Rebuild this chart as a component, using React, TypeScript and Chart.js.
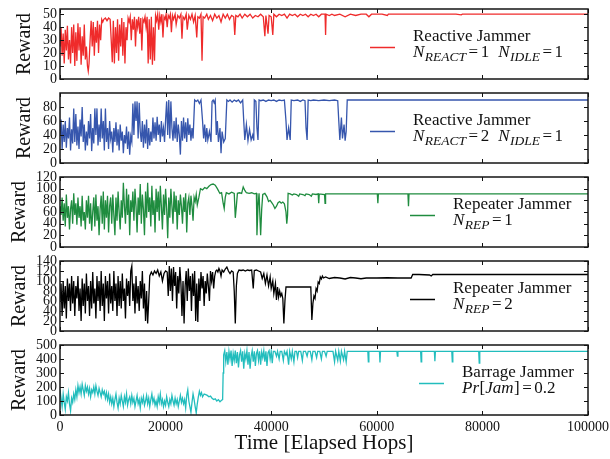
import { useEffect, useRef } from 'react';
import { Chart, registerables } from 'chart.js';

Chart.register(...registerables);

const FF = "'Liberation Serif', 'Times New Roman', Times, serif";

// x values are in thousands of elapsed hops
const xTicks = [0, 20000, 40000, 60000, 80000, 100000];
const yMax = [54, 100, 120, 140, 500];
const yStep = [10, 20, 20, 20, 100];
const yLabelMax = [50, 80, 120, 140, 500];

const seriesNames = ['Reactive Jammer', 'Reactive Jammer', 'Repeater Jammer', 'Repeater Jammer', 'Barrage Jammer'];
type Seg = [string, string];
const seriesParams: Seg[][] = [
  [['N', 'i'], ['REACT', 's'], ['=', 'rel'], ['1', 'r'], [' ', 'sp'], ['N', 'i'], ['IDLE', 's'], ['=', 'rel'], ['1', 'r']],
  [['N', 'i'], ['REACT', 's'], ['=', 'rel'], ['2', 'r'], [' ', 'sp'], ['N', 'i'], ['IDLE', 's'], ['=', 'rel'], ['1', 'r']],
  [['N', 'i'], ['REP', 's'], ['=', 'rel'], ['1', 'r']],
  [['N', 'i'], ['REP', 's'], ['=', 'rel'], ['2', 'r']],
  [['Pr', 'i'], ['[', 'r'], ['Jam', 'i'], [']', 'r'], ['=', 'rel'], ['0.2', 'r']],
];
const colors = ['#ef2b2b', '#3656ad', '#1f8c3f', '#000000', '#22bdbd'];

const reactive1: number[][] = [
  [0, 25], [0.2, 40], [0.4, 18], [0.6, 35], [0.8, 12], [1.0, 38], [1.2, 22], [1.4, 41], [1.6, 15], [1.8, 30], [2.0, 12], [2.2, 40], [2.4, 20], [2.6, 42], [2.8, 10], [3.0, 36], [3.2, 14], [3.4, 43], [3.6, 22], [3.8, 40], [4.0, 11], [4.2, 33], [4.4, 18], [4.6, 42], [4.8, 15], [5.0, 25], [5.2, 10], [5.35, 6], [5.5, 12],
  [5.7, 30], [5.9, 45], [6.1, 25], [6.3, 44], [6.5, 18], [6.7, 40], [6.9, 28], [7.1, 45], [7.3, 20], [7.5, 42], [7.7, 30], [7.9, 46],
  [8.1, 44], [8.3, 46], [8.6, 47], [8.9, 45], [9.2, 47], [9.5, 46], [9.7, 30], [9.9, 13], [10.1, 45], [10.3, 12], [10.5, 40], [10.7, 20], [10.9, 46], [11.1, 14], [11.3, 42], [11.5, 25], [11.7, 47], [11.9, 18], [12.1, 44], [12.3, 12], [12.5, 40], [12.7, 30], [12.9, 47],
  [13.1, 44], [13.3, 48], [13.5, 30], [13.7, 46], [13.9, 38], [14.1, 48], [14.3, 25], [14.5, 46], [14.7, 40], [14.9, 48], [15.1, 35], [15.3, 47], [15.5, 22], [15.7, 46], [15.9, 44], [16.1, 48], [16.3, 40],
  [16.5, 48], [16.7, 12], [16.9, 46], [17.1, 15], [17.3, 48], [17.5, 11], [17.7, 40], [17.9, 14], [18.1, 49],
  [18.3, 45], [18.5, 50], [18.7, 38], [18.9, 49], [19.1, 44], [19.3, 50], [19.5, 32], [19.7, 48], [19.9, 46], [20.1, 50], [20.3, 40], [20.5, 49], [20.7, 47], [20.9, 50], [21.1, 36], [21.3, 49], [21.5, 46], [21.8, 50], [22.0, 42], [22.3, 49], [22.6, 47], [22.9, 50], [23.1, 31], [23.3, 48], [23.6, 46], [23.9, 50], [24.1, 38], [24.4, 49], [24.7, 46], [25.0, 50], [25.3, 44], [25.6, 49], [25.9, 32], [26.1, 48], [26.4, 47], [26.7, 50], [26.9, 14], [27.1, 48],
  [27.4, 47], [27.8, 50], [28.1, 46], [28.5, 49], [28.9, 45], [29.3, 50], [29.7, 47], [30.1, 49], [30.5, 44], [30.9, 50], [31.3, 47], [31.7, 50], [32.1, 46], [32.5, 49], [32.9, 48], [33.1, 34], [33.3, 49], [33.7, 48], [34.1, 50], [34.5, 47], [35, 50], [35.5, 48], [36, 50], [36.5, 47], [37, 49], [37.5, 48], [38, 50], [38.5, 48], [38.8, 33], [39.0, 49], [39.4, 35], [39.6, 49], [40.0, 48], [40.3, 34], [40.5, 50],
  [41, 48], [41.5, 50], [42, 49], [42.5, 50], [43, 47], [43.5, 50], [44, 49], [44.5, 50], [45, 48], [45.5, 50], [46, 49], [46.5, 50], [47, 48], [47.5, 50], [48, 49], [48.5, 50], [49, 48], [49.5, 50], [50.2, 50], [50.3, 34], [50.4, 50], [51, 49], [51.5, 50], [52, 49], [53, 50], [54, 48], [55, 50], [56, 49], [57, 50], [58, 50], [58.5, 48], [59, 50], [61, 50], [62, 49], [62.2, 50], [65, 50], [75, 50], [76, 49.5], [76.2, 50], [100, 50],
];

const reactive2: number[][] = [
  [0, 40], [0.2, 62], [0.4, 20], [0.6, 55], [0.8, 30], [1.0, 60], [1.2, 22], [1.4, 50], [1.6, 35], [1.8, 65], [2.0, 18], [2.2, 48], [2.4, 28], [2.6, 78], [2.8, 30], [3.0, 70], [3.2, 25], [3.4, 52], [3.6, 20], [3.8, 62], [4.0, 38], [4.2, 80], [4.4, 30], [4.6, 55], [4.8, 18], [5.0, 45], [5.2, 25], [5.4, 60], [5.6, 35], [5.8, 70], [6.0, 17], [6.2, 50], [6.4, 28], [6.6, 78], [6.8, 40], [7.0, 78], [7.2, 25], [7.4, 55], [7.6, 30], [7.8, 78], [8.0, 35], [8.2, 60], [8.4, 18], [8.6, 78], [8.8, 30], [9.0, 50], [9.2, 20], [9.4, 60], [9.6, 35], [9.8, 45], [10.0, 15], [10.2, 50], [10.4, 30], [10.6, 58], [10.8, 25], [11.0, 48], [11.2, 18], [11.4, 55], [11.6, 32], [11.8, 45], [12.0, 14], [12.2, 40], [12.4, 28], [12.6, 52], [12.8, 20], [13.0, 45], [13.2, 12], [13.4, 38], [13.6, 30],
  [13.8, 85], [14.0, 40], [14.2, 88], [14.4, 60], [14.6, 88], [14.8, 35], [15.0, 86], [15.2, 45], [15.4, 30], [15.6, 60], [15.8, 22], [16.0, 55], [16.2, 28], [16.4, 62], [16.6, 20], [16.8, 50], [17.0, 25], [17.2, 45], [17.4, 30],
  [17.6, 65], [17.8, 35], [18.0, 58], [18.2, 32], [18.4, 66], [18.6, 40], [18.8, 55], [19.0, 30], [19.2, 60], [19.4, 38], [19.6, 50], [19.8, 30], [20.0, 62], [20.2, 88], [20.4, 40], [20.6, 90], [20.8, 35], [21.0, 88], [21.2, 50], [21.4, 32], [21.6, 60], [21.8, 35], [22.0, 65], [22.2, 30], [22.4, 55], [22.6, 40], [22.8, 12], [23.0, 60], [23.2, 32], [23.4, 65], [23.6, 35], [23.8, 58], [24.0, 30], [24.2, 64], [24.4, 40], [24.6, 55], [24.8, 32], [25.0, 50], [25.2, 35],
  [25.5, 90], [25.8, 88], [26.1, 90], [26.4, 85], [26.7, 90], [27.0, 60], [27.2, 35], [27.4, 55], [27.6, 30], [27.8, 50], [28.0, 33], [28.3, 45], [28.6, 30], [28.8, 88], [29.0, 90], [29.2, 86], [29.4, 90], [29.6, 40], [29.8, 60], [30.0, 30], [30.3, 50], [30.5, 14], [30.7, 45], [31.0, 30], [31.3, 35],
  [31.6, 90], [31.9, 88], [32.2, 90], [32.6, 87], [33.0, 90], [33.4, 88], [33.8, 90], [34.2, 86], [34.6, 90], [34.8, 60], [35.0, 33], [35.3, 55], [35.6, 32], [35.9, 48], [36.2, 33], [36.5, 40], [36.7, 32], [36.8, 90], [37.1, 88], [37.3, 50], [37.5, 33], [37.7, 90], [38.0, 89], [38.5, 90], [39.0, 88], [39.5, 90], [40, 89], [40.5, 90], [41, 88], [41.5, 90], [42, 89], [42.5, 90], [42.8, 60], [43.0, 33], [43.3, 50], [43.6, 33], [43.8, 90], [44.3, 89], [45, 90], [45.5, 88], [46, 90], [46.4, 89], [46.6, 50], [46.8, 33], [47.0, 90], [47.5, 89], [48, 90], [49, 89], [50, 90], [51, 89], [52, 90], [52.6, 89], [52.8, 60], [53.0, 33], [53.3, 65], [53.5, 35], [53.8, 55], [54.0, 32], [54.2, 45], [54.4, 90], [56, 90], [60, 90], [70, 90], [80, 90], [100, 90],
];

const repeater1: number[][] = [
  [0, 70], [0.2, 55], [0.4, 85], [0.6, 45], [0.8, 75], [1.0, 35], [1.2, 90], [1.4, 50], [1.6, 70], [1.8, 30], [2.0, 65], [2.2, 80], [2.4, 40], [2.6, 92], [2.8, 55], [3.0, 75], [3.2, 38], [3.4, 85], [3.6, 50], [3.8, 70], [4.0, 35], [4.2, 88], [4.4, 45], [4.6, 60], [4.8, 30], [5.0, 80], [5.2, 50], [5.4, 88], [5.6, 40], [5.8, 75], [6.0, 28], [6.2, 60], [6.4, 85], [6.6, 35], [6.8, 90], [7.0, 45], [7.2, 70], [7.4, 20], [7.6, 65], [7.8, 88], [8.0, 40], [8.2, 95], [8.4, 30], [8.6, 80], [8.8, 50], [9.0, 88], [9.2, 25], [9.4, 70], [9.6, 85], [9.8, 40], [10.0, 90], [10.2, 55], [10.4, 20], [10.6, 85], [10.8, 45], [11.0, 95], [11.2, 60], [11.4, 30], [11.6, 80], [11.8, 50], [12.0, 110], [12.2, 70], [12.4, 40], [12.6, 100], [12.8, 55], [13.0, 90], [13.2, 20], [13.4, 80], [13.6, 60], [13.8, 95], [14.0, 45], [14.2, 100], [14.4, 70], [14.6, 25], [14.8, 85], [15.0, 55], [15.2, 108], [15.4, 40], [15.6, 90], [15.8, 65], [16.0, 20], [16.2, 95], [16.4, 50], [16.6, 110], [16.8, 60], [17.0, 85], [17.2, 35], [17.4, 105], [17.6, 55], [17.8, 80], [18.0, 25], [18.2, 100], [18.4, 60], [18.6, 95], [18.8, 45], [19.0, 105], [19.2, 70], [19.4, 30], [19.6, 90], [19.8, 55], [20.0, 100], [20.2, 65], [20.4, 15], [20.6, 85], [20.8, 50], [21.0, 100], [21.2, 70], [21.4, 40], [21.6, 95], [21.8, 60], [22.0, 88], [22.2, 30], [22.4, 80], [22.6, 55], [22.8, 90], [23.0, 70], [23.2, 40], [23.4, 85], [23.6, 60], [23.8, 92], [24.0, 25], [24.2, 75], [24.4, 85], [24.6, 55], [24.8, 88], [25.0, 70], [25.2, 45], [25.4, 85], [25.6, 78], [25.8, 90], [26.0, 72], [26.3, 85],
  [26.6, 100], [27.0, 98], [27.4, 102], [27.8, 100], [28.2, 104], [28.6, 107], [29.0, 108], [29.4, 106], [29.8, 100], [30.1, 95], [30.3, 92], [30.6, 93], [30.9, 75], [31.1, 66], [31.3, 85], [31.5, 93], [32.0, 91], [32.5, 94], [33.0, 92], [33.2, 50], [33.4, 70], [33.6, 92], [34.0, 93], [34.4, 92], [34.7, 103], [35.0, 97], [35.3, 93], [35.8, 92], [36.3, 93], [36.8, 91], [37.2, 92], [37.3, 20], [37.5, 70], [37.7, 92], [38.0, 20], [38.2, 65], [38.4, 90], [38.8, 92],
  [39.2, 86], [39.5, 78], [39.8, 80], [40.1, 76], [40.4, 72], [40.7, 66], [41.0, 70], [41.3, 76], [41.6, 78], [41.9, 75], [42.2, 77], [42.5, 74], [42.8, 60], [42.95, 40], [43.1, 55], [43.2, 92], [43.6, 91], [44.0, 89], [44.3, 91], [44.8, 90], [45.2, 87], [45.4, 91], [46.0, 90], [46.4, 88], [46.6, 91], [47.2, 90], [47.6, 87], [47.8, 91], [48.5, 90], [48.9, 91], [49.0, 75], [49.1, 91], [50.1, 90], [50.2, 75], [50.3, 91], [52, 91], [60.1, 91], [60.2, 75], [60.3, 91], [65.9, 91], [66.0, 70], [66.1, 91], [100, 91],
];

const repeater2: number[][] = [
  [0, 60], [0.2, 95], [0.4, 30], [0.6, 100], [0.8, 45], [1.0, 90], [1.2, 25], [1.4, 105], [1.6, 60], [1.8, 95], [2.0, 40], [2.2, 110], [2.4, 55], [2.6, 100], [2.8, 30], [3.0, 90], [3.2, 65], [3.4, 110], [3.6, 40], [3.8, 85], [4.0, 20], [4.2, 105], [4.4, 50], [4.6, 95], [4.8, 35], [5.0, 115], [5.2, 60], [5.4, 90], [5.6, 30], [5.8, 100], [6.0, 45], [6.2, 118], [6.4, 55], [6.6, 85], [6.8, 25], [7.0, 110], [7.2, 60], [7.4, 100], [7.6, 40], [7.8, 120], [8.0, 50], [8.2, 95], [8.4, 20], [8.6, 110], [8.8, 65], [9.0, 100], [9.2, 35], [9.4, 115], [9.6, 55], [9.8, 90], [10.0, 40], [10.2, 120], [10.4, 60], [10.6, 95], [10.8, 30], [11.0, 110], [11.2, 50], [11.4, 100], [11.6, 45], [11.8, 115], [12.0, 60], [12.2, 85], [12.4, 25], [12.6, 105], [12.8, 70], [13.0, 100], [13.2, 50], [13.4, 120], [13.6, 130], [13.8, 60], [14.0, 95], [14.2, 35], [14.4, 110], [14.6, 55], [14.8, 90], [15.0, 40], [15.2, 100], [15.4, 65], [15.6, 120], [15.8, 45], [16.0, 95], [16.2, 20], [16.4, 80], [16.6, 15], [16.8, 60],
  [17.0, 110], [17.3, 118], [17.6, 112], [17.9, 120], [18.2, 115], [18.5, 122], [18.8, 110], [19.1, 118], [19.4, 100], [19.7, 115], [20.0, 120], [20.3, 118],
  [20.5, 70], [20.7, 130], [20.9, 80], [21.1, 125], [21.3, 60], [21.5, 128], [21.7, 90], [21.9, 118], [22.1, 45], [22.3, 110], [22.5, 75], [22.7, 128], [22.9, 95], [23.1, 30], [23.3, 100], [23.5, 15], [23.7, 90], [23.9, 120], [24.1, 60], [24.3, 125], [24.5, 80], [24.7, 110], [24.9, 40], [25.1, 115], [25.3, 70], [25.5, 120], [25.7, 20], [25.9, 95], [26.1, 18], [26.3, 105], [26.5, 60], [26.7, 118], [26.9, 85], [27.1, 110], [27.3, 50], [27.5, 100], [27.7, 75], [27.9, 115], [28.1, 90], [28.3, 60], [28.5, 120], [28.7, 100], [28.9, 118], [29.1, 85], [29.3, 110], [29.5, 120], [29.7, 122], [29.9, 118], [30.1, 125], [30.3, 120], [30.5, 110], [30.7, 122], [31.0, 118], [31.3, 124], [31.6, 128], [31.9, 120], [32.2, 115], [32.5, 120], [32.8, 118], [33.0, 80], [33.2, 15], [33.4, 90], [33.6, 115],
  [33.9, 122], [34.3, 121], [34.7, 122], [35.1, 120], [35.5, 122], [35.9, 121], [36.3, 122], [36.6, 85], [36.8, 121], [37.2, 122], [37.6, 120], [38.0, 118],
  [38.3, 105], [38.6, 115], [38.9, 95], [39.2, 112], [39.5, 90], [39.8, 108], [40.0, 85], [40.3, 100], [40.5, 75], [40.8, 95], [41.0, 62], [41.2, 88], [41.4, 68], [41.6, 80], [41.8, 70], [42.0, 75], [42.2, 65], [42.4, 15], [42.6, 60], [42.8, 88],
  [43.2, 88], [44, 88], [45, 88], [46, 88], [47, 88], [47.5, 88], [47.7, 22], [47.9, 55], [48.1, 70], [48.3, 65], [48.5, 85], [48.7, 80], [48.9, 98], [49.1, 95], [49.3, 108], [49.5, 104], [49.7, 110], [49.9, 106], [50.3, 108], [51, 105], [52, 107], [53, 106], [54, 104], [55, 107], [56, 106], [57, 104.5], [58, 106], [60, 106], [62, 106.5], [64, 106], [66.5, 106], [66.8, 113], [68, 113], [70, 112], [70.3, 110], [70.6, 113], [75, 113], [100, 113],
];

const barrage: number[][] = [
  [0, 180], [0.2, 120], [0.4, 60], [0.6, 150], [0.8, 90], [1.0, 40], [1.2, 130], [1.4, 100], [1.6, 160], [1.8, 80], [2.0, 30], [2.2, 120], [2.4, 90], [2.6, 150], [2.8, 110], [3.0, 180], [3.2, 130], [3.4, 210], [3.6, 160], [3.8, 200], [4.0, 150], [4.2, 220], [4.4, 180], [4.6, 140], [4.8, 210], [5.0, 170], [5.2, 200], [5.4, 150], [5.6, 190], [5.8, 130], [6.0, 180], [6.2, 160], [6.4, 200], [6.6, 150], [6.8, 210], [7.0, 170], [7.2, 140], [7.4, 190], [7.6, 160], [7.8, 130], [8.0, 180], [8.2, 150], [8.4, 170], [8.6, 120], [8.8, 160], [9.0, 110], [9.2, 150], [9.4, 90], [9.6, 130], [9.8, 80], [10.0, 120], [10.2, 60], [10.4, 110], [10.6, 150], [10.8, 90], [11.0, 50], [11.2, 120], [11.4, 80], [11.6, 140], [11.8, 100], [12.0, 60], [12.2, 130], [12.4, 90], [12.6, 150], [12.8, 70], [13.0, 110], [13.2, 130], [13.4, 80], [13.6, 140], [13.8, 90], [14.0, 120], [14.2, 60], [14.4, 100], [14.6, 140], [14.8, 80], [15.0, 110], [15.2, 50], [15.4, 120], [15.6, 90], [15.8, 130], [16.0, 70], [16.2, 100], [16.4, 140], [16.6, 80], [16.8, 120], [17.0, 60], [17.2, 110], [17.4, 150], [17.6, 90], [17.8, 120], [18.0, 70], [18.2, 100], [18.4, 60], [18.6, 130], [18.8, 90], [19.0, 150], [19.2, 80], [19.4, 110], [19.6, 60], [19.8, 100], [20.0, 70], [20.2, 130], [20.4, 90], [20.6, 60], [20.8, 110], [21.0, 80], [21.2, 140], [21.4, 100], [21.6, 70], [21.8, 120], [22.0, 80], [22.2, 110], [22.4, 60], [22.6, 100], [22.8, 140], [23.0, 90], [23.2, 120], [23.4, 80], [23.6, 110], [23.8, 50], [24.0, 140], [24.2, 180], [24.4, 100], [24.6, 60], [24.8, 20], [25.0, 90], [25.2, 150], [25.4, 110], [25.6, 60], [25.8, 15], [26.0, 80], [26.2, 130], [26.4, 170], [26.6, 140], [26.8, 160], [27.0, 130], [27.3, 150], [27.6, 145], [27.9, 140], [28.2, 130], [28.5, 135], [28.8, 120], [29.1, 110], [29.4, 115], [29.7, 100], [30.0, 110], [30.3, 95], [30.6, 105], [30.8, 110], [30.9, 300], [31.0, 430], [31.2, 460], [31.4, 380],
  [31.6, 450], [31.8, 360], [32.0, 455], [32.2, 400], [32.4, 460], [32.6, 350], [32.8, 440], [33.0, 390], [33.2, 460], [33.4, 370], [33.6, 450], [33.8, 340], [34.0, 430], [34.2, 460], [34.4, 380], [34.6, 455], [34.8, 330], [35.0, 440], [35.2, 400], [35.4, 460], [35.6, 360], [35.8, 450], [36.0, 330], [36.2, 420], [36.4, 460], [36.6, 380], [36.8, 455], [37.0, 350], [37.2, 440], [37.4, 460], [37.6, 390], [37.8, 455], [38.0, 360], [38.2, 450], [38.4, 410], [38.6, 460], [38.8, 380], [39.0, 455], [39.2, 350], [39.4, 445], [39.6, 460], [39.8, 400], [40.0, 455], [40.2, 370], [40.4, 455],
  [40.7, 455], [41.0, 420], [41.2, 455], [41.5, 400], [41.7, 455], [42.0, 455], [42.3, 390], [42.5, 455], [42.8, 430], [43.0, 455], [43.3, 360], [43.5, 455], [43.8, 400], [44.0, 455], [44.3, 380], [44.5, 455], [44.8, 455], [45.0, 410], [45.2, 455], [45.6, 455], [45.9, 390], [46.1, 455], [46.5, 455], [46.8, 420], [47.0, 455], [47.4, 455], [47.7, 395], [47.9, 455], [48.3, 455], [48.6, 410], [48.8, 455], [49.2, 455], [49.5, 400], [49.7, 455], [50.1, 455], [50.4, 420], [50.6, 455], [51, 455], [51.7, 455], [52.0, 380], [52.2, 455], [52.6, 390], [52.8, 455], [53.1, 385], [53.3, 455], [53.7, 395], [53.9, 455], [54.2, 380], [54.4, 455], [55, 455], [58.3, 455], [58.4, 380], [58.5, 455], [60.5, 455], [60.6, 375], [60.7, 455], [63.8, 455], [63.9, 420], [64.0, 455], [68.3, 455], [68.4, 380], [68.5, 455], [70.9, 455], [71.0, 385], [71.1, 455], [74.2, 455], [74.3, 380], [74.4, 455], [79.3, 455], [79.4, 370], [79.5, 455], [100, 455],
];

const seriesData = [reactive1, reactive2, repeater1, repeater2, barrage];

// layout (pixels)
const PANEL_TOPS = [9, 93, 177, 261, 345];
const PANEL_H = 70;
const PAD_TOP = 12;
const yTitlePad = [15, 15, 9.5, 9.5, 9.5];
const legendLeft = [413, 413, 453, 453, 462];

function drawMath(ctx: CanvasRenderingContext2D, segs: Seg[], x: number, y: number) {
  let cx = x;
  for (const [txt, st] of segs) {
    if (st === 's') {
      ctx.font = `italic 13.5px ${FF}`;
      ctx.fillText(txt, cx, y + 4);
      cx += ctx.measureText(txt).width;
    } else if (st === 'i') {
      ctx.font = `italic 17px ${FF}`;
      ctx.fillText(txt, cx, y);
      cx += ctx.measureText(txt).width + 0.5;
    } else if (st === 'rel') {
      ctx.font = `17px ${FF}`;
      cx += 2.5;
      ctx.fillText(txt, cx, y);
      cx += ctx.measureText(txt).width + 2.5;
    } else if (st === 'sp') {
      cx += 9;
    } else {
      ctx.font = `17px ${FF}`;
      ctx.fillText(txt, cx, y);
      cx += ctx.measureText(txt).width;
    }
  }
}

function makeFramePlugin() {
  return {
    id: 'frameTicks',
    afterDatasetsDraw(chart: any) {
      const { ctx, chartArea: a, scales } = chart;
      ctx.save();
      ctx.strokeStyle = '#111';
      ctx.lineWidth = 1;
      ctx.beginPath();
      for (const t of scales.y.ticks) {
        const y = Math.round(scales.y.getPixelForValue(t.value)) + 0.5;
        ctx.moveTo(a.left, y); ctx.lineTo(a.left + 4, y);
        ctx.moveTo(a.right, y); ctx.lineTo(a.right - 4, y);
      }
      for (const v of xTicks) {
        const x = Math.round(scales.x.getPixelForValue(v)) + 0.5;
        ctx.moveTo(x, a.bottom); ctx.lineTo(x, a.bottom - 4);
        ctx.moveTo(x, a.top); ctx.lineTo(x, a.top + 4);
      }
      ctx.stroke();
      ctx.lineWidth = 1.5;
      ctx.strokeStyle = '#151515';
      ctx.strokeRect(a.left, a.top, a.right - a.left, a.bottom - a.top);
      ctx.restore();
    },
  };
}

function makeLegendPlugin(i: number) {
  return {
    id: 'mathLegend',
    afterDraw(chart: any) {
      const { ctx, chartArea: a } = chart;
      const left = legendLeft[i];
      ctx.save();
      ctx.strokeStyle = colors[i];
      ctx.lineWidth = 1.5;
      ctx.beginPath();
      ctx.moveTo(left - 43, a.top + 38.5);
      ctx.lineTo(left - 18, a.top + 38.5);
      ctx.stroke();
      ctx.fillStyle = '#111';
      ctx.textBaseline = 'alphabetic';
      ctx.textAlign = 'left';
      ctx.font = `17px ${FF}`;
      ctx.fillText(seriesNames[i], left, a.top + 31.5);
      drawMath(ctx, seriesParams[i], left, a.top + 47.5);
      ctx.restore();
    },
  };
}

export default function App() {
  const refs = useRef<(HTMLCanvasElement | null)[]>([]);

  useEffect(() => {
    const charts = seriesData.map((series, i) => {
      const canvas = refs.current[i] as HTMLCanvasElement;
      const isLast = i === seriesData.length - 1;
      return new Chart(canvas, {
        type: 'line',
        data: {
          datasets: [
            {
              data: series.map(([k, v]) => ({ x: k * 1000, y: v })),
              borderColor: colors[i],
              borderWidth: 1.3,
              pointRadius: 0,
              tension: 0,
              fill: false,
            },
          ],
        },
        options: {
          animation: false,
          responsive: false,
          events: [],
          layout: { padding: { top: PAD_TOP, right: 22, bottom: isLast ? 0 : 8, left: 0 } },
          plugins: { legend: { display: false }, tooltip: { enabled: false } },
          scales: {
            x: {
              type: 'linear',
              min: 0,
              max: 100000,
              display: isLast,
              grid: { display: false, drawTicks: false },
              border: { display: false },
              ticks: {
                stepSize: 20000,
                autoSkip: false,
                maxRotation: 0,
                padding: 4,
                color: '#111',
                font: { family: FF, size: 14 },
                callback: (v: any) => String(v),
              },
              title: {
                display: isLast,
                text: 'Time [Elapsed Hops]',
                color: '#111',
                font: { family: FF, size: 21, lineHeight: 1 },
                padding: { top: 0, bottom: 5 },
              },
              afterFit: (s: any) => {
                if (isLast) s.height = 44; else s.height = 0;
                s.paddingLeft = 0;
                s.paddingRight = 0;
              },
            },
            y: {
              type: 'linear',
              min: 0,
              max: yMax[i],
              grid: { display: false, drawTicks: false },
              border: { display: false },
              ticks: {
                stepSize: yStep[i],
                autoSkip: false,
                includeBounds: false,
                padding: 3,
                color: '#111',
                font: { family: FF, size: 14 },
              },
              title: {
                display: true,
                text: 'Reward',
                color: '#111',
                font: { family: FF, size: 20, lineHeight: 1 },
                padding: { top: yTitlePad[i], bottom: 0 },
              },
              afterBuildTicks: (s: any) => { s.ticks = s.ticks.filter((t: any) => t.value <= yLabelMax[i]); },
              afterFit: (s: any) => { s.width = 60; s.paddingTop = 0; s.paddingBottom = 0; },
            },
          },
        } as any,
        plugins: [makeFramePlugin(), makeLegendPlugin(i)],
      });
    });
    return () => charts.forEach((c) => c.destroy());
  }, []);

  return (
    <div style={{ position: 'fixed', left: 0, top: 0, width: 610, height: 459, background: '#fff', overflow: 'hidden' }}>
      {seriesData.map((_, i) => {
        const isLast = i === seriesData.length - 1;
        const top = PANEL_TOPS[i] - PAD_TOP;
        const h = isLast ? 459 - top : PAD_TOP + PANEL_H + 8;
        return (
          <canvas
            key={i}
            ref={(el) => { refs.current[i] = el; }}
            width={610}
            height={h}
            style={{ position: 'absolute', left: 0, top, width: 610, height: h }}
          />
        );
      })}
    </div>
  );
}
